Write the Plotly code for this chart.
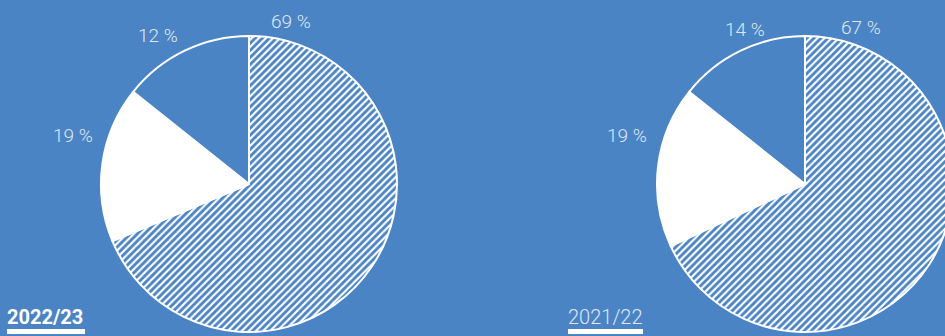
import plotly.graph_objects as go

# ---- data ----
categories = ["Hatched share", "White share", "Blue share"]
shares_2022 = [68.7, 17.0, 14.3]      # slice sizes as drawn
shares_2021 = [68.1, 17.6, 14.3]
labels_2022 = ["69 %", "19 %", "12 %"]
labels_2021 = ["67 %", "19 %", "14 %"]
years = ["2022/23", "2021/22"]

BG = "rgb(75,132,196)"
LIGHT = "rgb(222,231,243)"
W, H = 960, 336

def px(x, y):
    return x / W, 1 - y / H

def pie(values, x0, x1):
    return go.Pie(
        labels=categories, values=values, sort=False, direction="clockwise",
        rotation=0, textinfo="none", hoverinfo="skip", showlegend=False,
        domain=dict(x=[x0 / W, x1 / W], y=[(336 - 332) / H, (336 - 36) / H]),
        marker=dict(
            colors=[BG, "white", BG],
            line=dict(color="white", width=2),
            pattern=dict(shape=["/", "", ""], fgcolor="white", bgcolor=BG,
                         size=5, solidity=0.42, fillmode="replace"),
        ),
    )

fig = go.Figure([pie(shares_2022, 101, 397), pie(shares_2021, 657, 953)])

ann = []
label_pos = [
    (labels_2022, [(291, 21), (73, 135), (158, 36)]),
    (labels_2021, [(861, 27), (627, 135), (745, 29)]),
]
for texts, pos in label_pos:
    for t, (x, y) in zip(texts, pos):
        ax, ay = px(x, y)
        ann.append(dict(text=t, x=ax, y=ay, xref="paper", yref="paper",
                        showarrow=False, xanchor="center", yanchor="middle",
                        font=dict(family="Roboto", size=19, color=LIGHT, weight=300)))

for yr, x, bold in [(years[0], 5, True), (years[1], 566, False)]:
    ax, ay = px(x, 317)
    ann.append(dict(text=yr, x=ax, y=ay, xref="paper", yref="paper",
                    showarrow=False, xanchor="left", yanchor="middle",
                    font=dict(family="Roboto", size=20,
                              color="white" if bold else LIGHT,
                              weight=700 if bold else 300)))

shapes = []
for xa, xb in [(7, 85), (568, 643)]:
    shapes.append(dict(type="rect", xref="paper", yref="paper",
                       x0=xa / W, x1=xb / W, y0=1 - 334 / H, y1=1 - 329 / H,
                       fillcolor="white", line=dict(width=0)))

fig.update_layout(
    width=W, height=H, margin=dict(l=0, r=0, t=0, b=0),
    paper_bgcolor=BG, plot_bgcolor=BG,
    annotations=ann, shapes=shapes,
)

fig.write_html("out.html", config={"displayModeBar": False})
